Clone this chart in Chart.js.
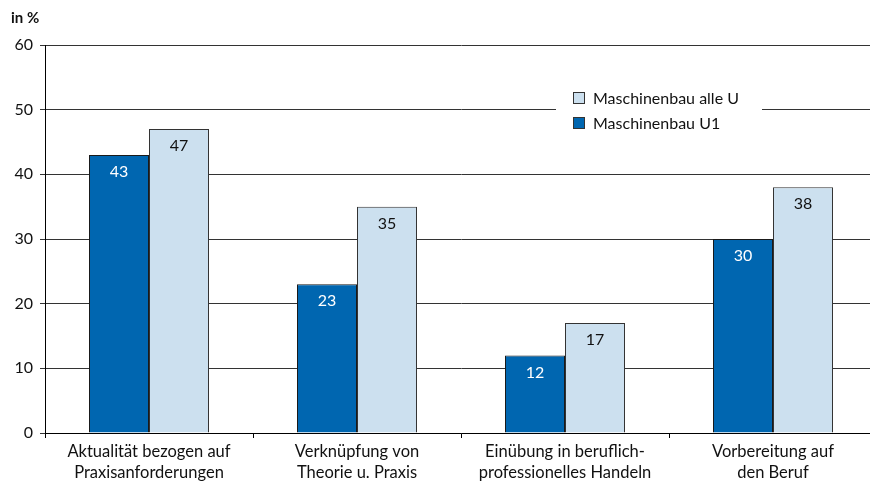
<!DOCTYPE html>
<html lang="de">
<head>
    <meta charset="UTF-8">
    <title>Maschinenbau</title>
    <style>
        html, body {
            margin: 0;
            padding: 0;
            background: #fff;
            overflow: hidden;
        }
        #wrap {
            position: relative;
            width: 880px;
            height: 484px;
        }
        #unit {
            position: absolute;
            left: 11px;
            top: 8px;
            font: bold 15px Lato, sans-serif;
            color: #111;
        }
    </style>
</head>
<body>
    <div id="wrap">
        <canvas id="chart" width="880" height="484"></canvas>
        <div id="unit">in %</div>
    </div>

    <script src="https://cdn.jsdelivr.net/npm/chart.js"></script>
    <script>
        const categories = [
            ['Aktualität bezogen auf', 'Praxisanforderungen'],
            ['Verknüpfung von', 'Theorie u. Praxis'],
            ['Einübung in beruflich-', 'professionelles Handeln'],
            ['Vorbereitung auf', 'den Beruf']
        ];
        const u1Values = [43, 23, 12, 30];
        const alleUValues = [47, 35, 17, 38];
        const yTicks = [0, 10, 20, 30, 40, 50, 60];

        const FONT = 'Lato, sans-serif';

        // values written inside the top of each bar
        const barLabels = {
            id: 'barLabels',
            afterDatasetsDraw(chart) {
                const ctx = chart.ctx;
                ctx.save();
                ctx.font = '16px ' + FONT;
                ctx.textAlign = 'center';
                ctx.textBaseline = 'middle';
                chart.data.datasets.forEach((ds, i) => {
                    chart.getDatasetMeta(i).data.forEach((bar, j) => {
                        ctx.fillStyle = ds.labelColor;
                        ctx.fillText(ds.data[j], bar.x, bar.y + 17);
                    });
                });
                ctx.restore();
            }
        };

        // legend box sitting inside the plot
        const innerLegend = {
            id: 'innerLegend',
            afterDraw(chart) {
                const ctx = chart.ctx;
                const x = 556, y = 84;
                ctx.save();
                ctx.fillStyle = '#fff';
                ctx.fillRect(x, y, 206, 52);
                ctx.font = '16px ' + FONT;
                ctx.textBaseline = 'middle';
                const order = [1, 0];
                order.forEach((di, k) => {
                    const ds = chart.data.datasets[di];
                    const cy = y + 15 + k * 25;
                    ctx.fillStyle = ds.backgroundColor;
                    ctx.fillRect(x + 17.5, cy - 6.5, 11, 11);
                    ctx.strokeStyle = '#333';
                    ctx.lineWidth = 1;
                    ctx.strokeRect(x + 17.5, cy - 6.5, 11, 11);
                    ctx.fillStyle = '#111';
                    ctx.fillText(ds.label, x + 37, cy);
                });
                ctx.restore();
            }
        };

        new Chart(document.getElementById('chart'), {
            type: 'bar',
            data: {
                labels: categories,
                datasets: [
                    {
                        label: 'Maschinenbau U1',
                        data: u1Values,
                        backgroundColor: '#0066b0',
                        borderColor: '#1a1a1a',
                        borderWidth: 1,
                        labelColor: '#ffffff'
                    },
                    {
                        label: 'Maschinenbau alle U',
                        data: alleUValues,
                        backgroundColor: '#cce0ef',
                        borderColor: '#333333',
                        borderWidth: 1,
                        labelColor: '#111111'
                    }
                ]
            },
            options: {
                responsive: false,
                animation: false,
                categoryPercentage: 0.577,
                barPercentage: 1,
                layout: {
                    padding: { left: 0, top: 45, right: 3, bottom: 0 }
                },
                plugins: {
                    legend: { display: false },
                    tooltip: { enabled: false }
                },
                scales: {
                    x: {
                        offset: true,
                        grid: {
                            offset: true,
                            drawOnChartArea: false,
                            color: '#000',
                            tickLength: 5
                        },
                        border: { color: '#000', width: 1 },
                        ticks: {
                            color: '#111',
                            font: { family: FONT, size: 16.5, lineHeight: 1.22 },
                            padding: 4,
                            maxRotation: 0,
                            autoSkip: false
                        },
                        afterFit(scale) { scale.height = 51; }
                    },
                    y: {
                        min: 0,
                        max: 60,
                        afterBuildTicks(scale) {
                            scale.ticks = yTicks.map(v => ({ value: v }));
                        },
                        grid: {
                            color: '#333',
                            tickLength: 5
                        },
                        border: { color: '#000', width: 1 },
                        ticks: {
                            color: '#111',
                            font: { family: FONT, size: 16 },
                            padding: 7
                        },
                        afterFit(scale) { scale.width = 45; }
                    }
                }
            },
            plugins: [barLabels, innerLegend]
        });
    </script>
</body>
</html>
